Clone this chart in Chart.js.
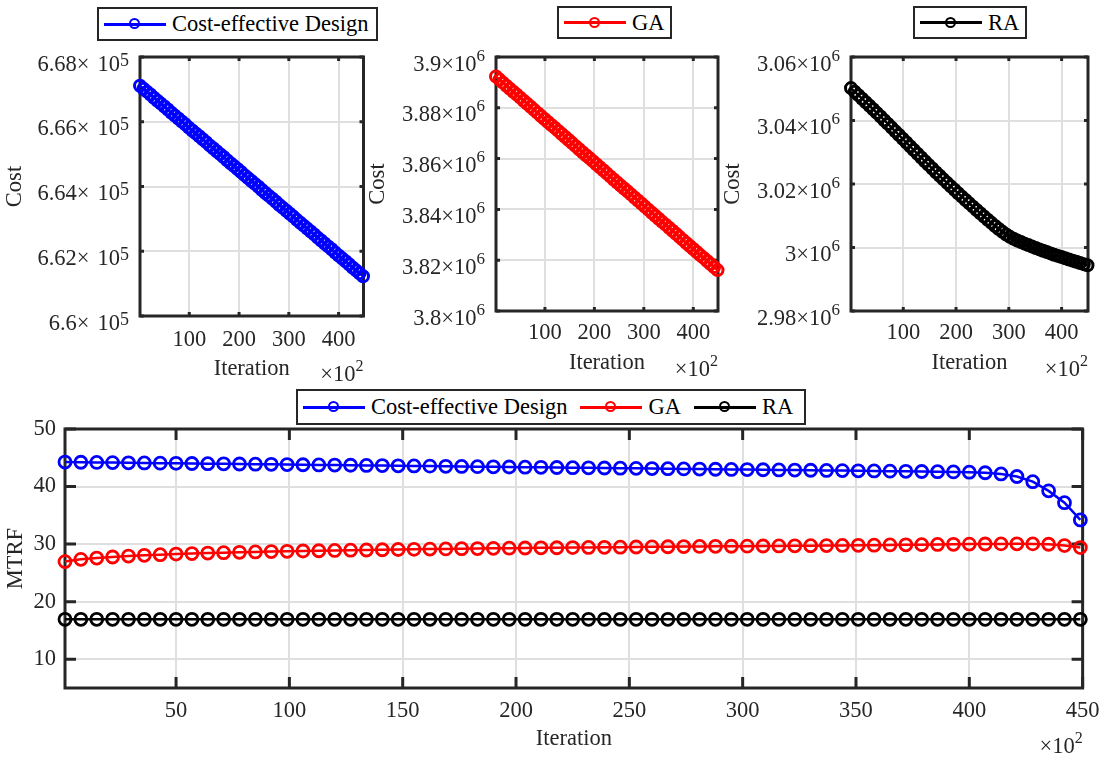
<!DOCTYPE html>
<html>
<head>
<meta charset="utf-8">
<script src="https://cdn.jsdelivr.net/npm/chart.js@4.4.1/dist/chart.umd.min.js"></script>
<style>
  html, body { margin: 0; padding: 0; background: #fff; }
  #page { position: relative; width: 1109px; height: 761px; overflow: hidden;
          font-family: 'Liberation Serif', 'Times New Roman', serif; }
  canvas { position: absolute; }
  .legend { position: absolute; box-sizing: border-box; border: 2px solid #262626; background: #fff;
            display: flex; align-items: center; padding-left: 5px; font-size: 22.5px; color: #000;
            white-space: nowrap; z-index: 5; }
  .item { display: flex; align-items: center; margin-right: 13px; }
  .sym { position: relative; display: inline-block; width: 62px; height: 3px; margin-right: 6px; }
  .sym i { position: absolute; left: 50%; top: 50%; width: 7px; height: 7px; margin: -6px 0 0 -6px;
           border: 2.5px solid currentColor; border-radius: 50%; }
</style>
</head>
<body>
<div id="page">
  <canvas id="costDesign" width="372" height="390" style="left:0;top:0"></canvas>
  <canvas id="costGA" width="375" height="390" style="left:360px;top:0"></canvas>
  <canvas id="costRA" width="394" height="390" style="left:715px;top:0"></canvas>
  <canvas id="mtrf" width="1109" height="381" style="left:0;top:380px"></canvas>

  <div class="legend" style="left:97px;top:7px;width:281px;height:34px">
    <span class="item"><span class="sym" style="background:#0000ff;color:#0000ff"><i></i></span>Cost-effective Design</span>
  </div>
  <div class="legend" style="left:557px;top:6px;width:115px;height:33px">
    <span class="item"><span class="sym" style="background:#ff0000;color:#ff0000"><i></i></span>GA</span>
  </div>
  <div class="legend" style="left:913px;top:6px;width:114px;height:33px">
    <span class="item"><span class="sym" style="background:#000;color:#000"><i></i></span>RA</span>
  </div>
  <div class="legend" style="left:296px;top:389px;width:510px;height:36px">
    <span class="item"><span class="sym" style="background:#0000ff;color:#0000ff"><i></i></span>Cost-effective Design</span>
    <span class="item"><span class="sym" style="background:#ff0000;color:#ff0000"><i></i></span>GA</span>
    <span class="item"><span class="sym" style="background:#000;color:#000"><i></i></span>RA</span>
  </div>
</div>

<script>
// iteration index (axis is in units of 10^2)
const iterations = [1, 8, 15, 22, 29, 36, 43, 50, 57, 64, 71, 78, 85, 92, 99, 106, 113, 120, 127, 134,
  141, 148, 155, 162, 169, 176, 183, 190, 197, 204, 211, 218, 225, 232, 239, 246, 253, 260, 267, 274,
  281, 288, 295, 302, 309, 316, 323, 330, 337, 344, 351, 358, 365, 372, 379, 386, 393, 400, 407, 414,
  421, 428, 435, 442, 449];

// cost curves (top row)
const designCost = [667110, 667020, 666930, 666840, 666740, 666650, 666560, 666470, 666380, 666280,
  666190, 666100, 666010, 665920, 665820, 665730, 665640, 665550, 665460, 665370,
  665270, 665180, 665090, 665000, 664910, 664810, 664720, 664630, 664540, 664450,
  664350, 664260, 664170, 664080, 663990, 663890, 663800, 663710, 663620, 663530,
  663430, 663340, 663250, 663160, 663070, 662970, 662880, 662790, 662700, 662610,
  662520, 662420, 662330, 662240, 662150, 662060, 661960, 661870, 661780, 661690,
  661600, 661500, 661410, 661320, 661230];
const gaCost = [3892300, 3891100, 3889900, 3888700, 3887500, 3886300, 3885200, 3884000, 3882800, 3881600,
  3880400, 3879200, 3878000, 3876800, 3875600, 3874400, 3873200, 3872100, 3870900, 3869700,
  3868500, 3867300, 3866100, 3864900, 3863700, 3862500, 3861300, 3860200, 3859000, 3857800,
  3856600, 3855400, 3854200, 3853000, 3851800, 3850600, 3849400, 3848200, 3847100, 3845900,
  3844700, 3843500, 3842300, 3841100, 3839900, 3838700, 3837500, 3836300, 3835100, 3834000,
  3832800, 3831600, 3830400, 3829200, 3828000, 3826800, 3825600, 3824400, 3823200, 3822000,
  3820900, 3819700, 3818500, 3817300, 3816100];
const raCost = [3050200, 3049090, 3047980, 3046870, 3045760, 3044650, 3043540, 3042400, 3041250, 3040090,
  3038930, 3037760, 3036590, 3035420, 3034240, 3033060, 3031880, 3030700, 3029520, 3028340,
  3027170, 3026010, 3024860, 3023720, 3022590, 3021470, 3020360, 3019260, 3018170, 3017090,
  3016020, 3014960, 3013910, 3012860, 3011820, 3010790, 3009770, 3008760, 3007760, 3006780,
  3005830, 3004930, 3004100, 3003360, 3002760, 3002220, 3001710, 3001220, 3000750, 3000290,
  2999840, 2999400, 2998970, 2998550, 2998140, 2997740, 2997350, 2996970, 2996590, 2996220,
  2995860, 2995490, 2995120, 2994760, 2994400];

// MTRF curves (bottom)
const designMtrf = [44.25, 44.22, 44.19, 44.16, 44.13, 44.10, 44.07, 44.04, 44.01, 43.98,
  43.95, 43.92, 43.89, 43.86, 43.82, 43.79, 43.76, 43.73, 43.70, 43.67,
  43.64, 43.61, 43.58, 43.55, 43.52, 43.49, 43.46, 43.43, 43.40, 43.37,
  43.34, 43.31, 43.28, 43.25, 43.22, 43.19, 43.16, 43.13, 43.10, 43.07,
  43.04, 43.01, 42.98, 42.95, 42.92, 42.89, 42.86, 42.83, 42.80, 42.77,
  42.74, 42.71, 42.68, 42.65, 42.62, 42.59, 42.55, 42.50, 42.40, 42.20,
  41.75, 40.85, 39.25, 37.20, 34.20];
const gaMtrf = [26.96, 27.35, 27.58, 27.76, 27.92, 28.05, 28.17, 28.27, 28.36, 28.44,
  28.51, 28.58, 28.64, 28.70, 28.75, 28.80, 28.85, 28.90, 28.94, 28.98,
  29.02, 29.06, 29.10, 29.13, 29.17, 29.20, 29.23, 29.26, 29.29, 29.32,
  29.35, 29.37, 29.40, 29.42, 29.45, 29.47, 29.50, 29.52, 29.54, 29.57,
  29.59, 29.61, 29.63, 29.65, 29.67, 29.69, 29.71, 29.73, 29.75, 29.77,
  29.79, 29.82, 29.85, 29.88, 29.91, 29.94, 29.97, 30.00, 30.02, 30.04,
  30.05, 30.04, 29.98, 29.74, 29.40];
const raMtrf = [16.93, 16.93, 16.93, 16.93, 16.93, 16.93, 16.93, 16.93, 16.93, 16.93, 16.93, 16.93, 16.93,
  16.93, 16.93, 16.93, 16.93, 16.93, 16.93, 16.93, 16.93, 16.93, 16.93, 16.93, 16.93, 16.93,
  16.93, 16.93, 16.93, 16.93, 16.93, 16.93, 16.93, 16.93, 16.93, 16.93, 16.93, 16.93, 16.93,
  16.93, 16.93, 16.93, 16.93, 16.93, 16.93, 16.93, 16.93, 16.93, 16.93, 16.93, 16.93, 16.93,
  16.93, 16.93, 16.93, 16.93, 16.93, 16.93, 16.93, 16.93, 16.93, 16.93, 16.93, 16.93, 16.93];

// ticks
const xTicksTop = [100, 200, 300, 400];
const xTicksBottom = [50, 100, 150, 200, 250, 300, 350, 400, 450];
const yTicksDesign = [660000, 662000, 664000, 666000, 668000];
const yLabelsDesign = ['6.6', '6.62', '6.64', '6.66', '6.68'];
const yTicksGA = [3800000, 3820000, 3840000, 3860000, 3880000, 3900000];
const yLabelsGA = ['3.8', '3.82', '3.84', '3.86', '3.88', '3.9'];
const yTicksRA = [2980000, 3000000, 3020000, 3040000, 3060000];
const yLabelsRA = ['2.98', '3', '3.02', '3.04', '3.06'];
const yTicksMtrf = [10, 20, 30, 40, 50];

const TXT = '#262626';
const AXIS = '#262626';
const GRID = '#dfdfdf';
const FONT = '"Liberation Serif"';

Chart.defaults.font.family = FONT;
Chart.defaults.font.size = 22.5;
Chart.defaults.color = TXT;

// MATLAB-ish box, inward ticks, "a×10^n" tick labels and the ×10^2 axis multiplier
const matlabAxes = {
    id: 'matlabAxes',
    beforeDatasetsDraw(chart, args, o) {
        const { ctx, chartArea: a, scales: { x, y } } = chart;
        ctx.save();
        ctx.strokeStyle = AXIS;
        ctx.lineWidth = 3;
        ctx.beginPath();
        x.ticks.forEach(t => {
            const p = x.getPixelForValue(t.value);
            ctx.moveTo(p, a.bottom); ctx.lineTo(p, a.bottom - o.tickLen);
            ctx.moveTo(p, a.top); ctx.lineTo(p, a.top + o.tickLen);
        });
        y.ticks.forEach(t => {
            const p = y.getPixelForValue(t.value);
            ctx.moveTo(a.left, p); ctx.lineTo(a.left + o.tickLen, p);
            ctx.moveTo(a.right, p); ctx.lineTo(a.right - o.tickLen, p);
        });
        ctx.stroke();
        ctx.strokeRect(a.left, a.top, a.right - a.left, a.bottom - a.top);
        ctx.restore();
    },
    afterDraw(chart, args, o) {
        const { ctx, chartArea: a, scales: { y } } = chart;
        ctx.save();
        ctx.fillStyle = TXT;
        ctx.textBaseline = 'alphabetic';
        ctx.textAlign = 'left';
        const main = '22.5px ' + FONT;

        if (o.expLabels) {
            y.ticks.forEach((t, i) => {
                const base = y.getPixelForValue(t.value) + 13.5;
                const mant = o.expLabels[i];
                ctx.font = main;
                const wm = ctx.measureText(mant).width;
                const wx = ctx.measureText('\u00d7').width;
                const w10 = ctx.measureText('10').width;
                ctx.font = o.supSize + 'px ' + FONT;
                const ws = ctx.measureText(o.exponent).width;
                let px = a.left - 11 - (wm + wx + o.gap + w10 + ws);
                ctx.font = main;
                ctx.fillText(mant, px, base); px += wm;
                ctx.fillText('\u00d7', px, base); px += wx + o.gap;
                ctx.fillText('10', px, base); px += w10;
                ctx.font = o.supSize + 'px ' + FONT;
                ctx.fillText(o.exponent, px, base - o.supRaise);
            });
        }

        // ×10^2 under the right end of the x axis
        const base = a.bottom + 65;
        ctx.font = main;
        const wt = ctx.measureText('\u00d710').width;
        ctx.font = '16px ' + FONT;
        const w2 = ctx.measureText('2').width;
        let px = a.right - wt - w2;
        ctx.font = main;
        ctx.fillText('\u00d710', px, base);
        ctx.font = '16px ' + FONT;
        ctx.fillText('2', px + wt, base - 10);
        ctx.restore();
    }
};

function lineSet(values, color, radius, stroke) {
    return {
        data: iterations.map((x, i) => ({ x, y: values[i] })),
        borderColor: color,
        borderWidth: 2.5,
        pointRadius: radius,
        pointBorderWidth: stroke,
        pointBorderColor: color,
        pointBackgroundColor: 'rgba(0,0,0,0)',
        tension: 0,
        clip: false
    };
}

function makeChart(id, cfg) {
    return new Chart(document.getElementById(id), {
        type: 'line',
        data: { datasets: cfg.datasets },
        options: {
            responsive: false,
            animation: false,
            events: [],
            layout: { padding: cfg.padding },
            plugins: {
                legend: { display: false },
                tooltip: { enabled: false },
                matlabAxes: {
                    tickLen: cfg.tickLen,
                    expLabels: cfg.expLabels || null,
                    exponent: cfg.exponent || '',
                    gap: cfg.gap || 0,
                    supSize: cfg.supSize || 16,
                    supRaise: cfg.supRaise || 0
                }
            },
            scales: {
                x: {
                    type: 'linear',
                    min: 1, max: 450,
                    afterBuildTicks: s => { s.ticks = cfg.xTicks.map(v => ({ value: v })); },
                    afterFit: s => { s.height = cfg.xHeight; },
                    grid: { color: GRID, lineWidth: 2, drawTicks: false },
                    border: { display: false },
                    ticks: { padding: cfg.xPad, color: TXT },
                    title: { display: true, text: 'Iteration', color: TXT,
                             padding: { top: 0, bottom: cfg.xTitlePad } }
                },
                y: {
                    type: 'linear',
                    min: cfg.yMin, max: cfg.yMax,
                    afterBuildTicks: s => { s.ticks = cfg.yTicks.map(v => ({ value: v })); },
                    afterFit: s => { s.width = cfg.yWidth; },
                    grid: { color: GRID, lineWidth: 2, drawTicks: false },
                    border: { display: false },
                    ticks: { display: !cfg.expLabels, padding: 9, color: TXT },
                    title: { display: true, text: cfg.yTitle, color: TXT,
                             padding: { top: cfg.yTitlePad, bottom: 0 } }
                }
            }
        },
        plugins: [matlabAxes]
    });
}

makeChart('costDesign', {
    datasets: [lineSet(designCost, '#0000ff', 5.5, 3)],
    padding: { left: 0, top: 57, right: 8, bottom: 0 },
    xTicks: xTicksTop, xHeight: 74, xPad: 10.5, xTitlePad: 7.5,
    yMin: 660000, yMax: 668000, yTicks: yTicksDesign, yWidth: 140, yTitle: 'Cost', yTitlePad: 1.5,
    tickLen: 4, expLabels: yLabelsDesign, exponent: '5', gap: 8, supSize: 18, supRaise: 5
});

makeChart('costGA', {
    datasets: [lineSet(gaCost, '#ff0000', 5.5, 3)],
    padding: { left: 0, top: 57, right: 17, bottom: 0 },
    xTicks: xTicksTop, xHeight: 79, xPad: 8.5, xTitlePad: 13.5,
    yMin: 3800000, yMax: 3900000, yTicks: yTicksGA, yWidth: 136, yTitle: 'Cost', yTitlePad: 4.5,
    tickLen: 4, expLabels: yLabelsGA, exponent: '6', gap: 0, supSize: 17, supRaise: 10
});

makeChart('costRA', {
    datasets: [lineSet(raCost, '#000000', 5.5, 3)],
    padding: { left: 0, top: 57, right: 21, bottom: 0 },
    xTicks: xTicksTop, xHeight: 79, xPad: 8.5, xTitlePad: 13.5,
    yMin: 2980000, yMax: 3060000, yTicks: yTicksRA, yWidth: 136, yTitle: 'Cost', yTitlePad: 4.5,
    tickLen: 4, expLabels: yLabelsRA, exponent: '6', gap: 0, supSize: 17, supRaise: 10
});

makeChart('mtrf', {
    datasets: [
        lineSet(designMtrf, '#0000ff', 6, 2.8),
        lineSet(gaMtrf, '#ff0000', 6, 2.8),
        lineSet(raMtrf, '#000000', 6, 2.8)
    ],
    padding: { left: 0, top: 49, right: 25, bottom: 0 },
    xTicks: xTicksBottom, xHeight: 73, xPad: 9.5, xTitlePad: 8,
    yMin: 5, yMax: 50, yTicks: yTicksMtrf, yWidth: 65, yTitle: 'MTRF', yTitlePad: 2.5,
    tickLen: 11
});
</script>
</body>
</html>
